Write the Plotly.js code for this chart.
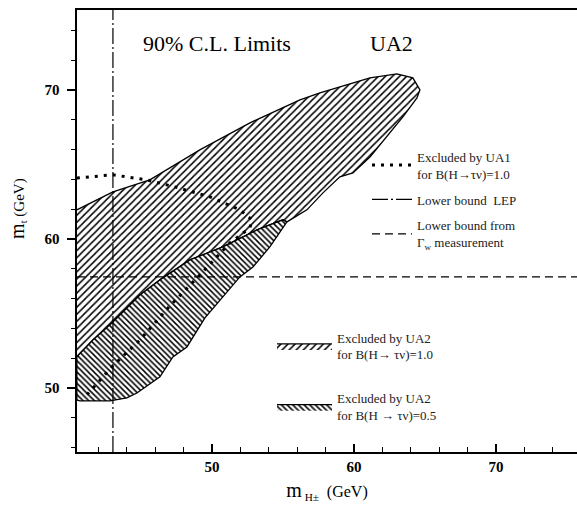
<!DOCTYPE html>
<html>
<head>
<meta charset="utf-8">
<script src="https://cdn.plot.ly/plotly-3.0.1.min.js"></script>
<style>
html,body{margin:0;padding:0;background:#fff;}
#chart{width:577px;height:517px;}
</style>
</head>
<body>
<div id="chart"></div>
<script>
// ---- data (GeV) ----
// Region excluded by UA2 for B(H->tau nu)=1.0 (upper, /// hatch)
const ua2B10_mH = [40.49, 43.03, 45.63, 49.15, 52.68, 56.20, 57.61, 61.13, 63.03, 64.15, 64.65,
                   64.44, 63.45, 62.32, 61.13, 59.93, 59.01, 57.82, 56.69, 55.28,
                   55.00, 53.17, 50.77, 48.45, 46.34, 44.93, 42.96, 41.62, 40.49];
const ua2B10_mt = [61.95, 63.15, 63.96, 65.97, 67.79, 69.33, 69.80, 70.81, 71.07, 70.81, 70.00,
                   69.46, 68.19, 66.85, 65.50, 64.43, 64.16, 63.09, 61.95, 61.14,
                   61.28, 60.60, 59.46, 58.59, 57.25, 56.24, 54.36, 53.22, 52.08];
// Region excluded by UA2 for B(H->tau nu)=0.5 (lower, \\\ hatch)
const ua2B05_mH = [55.28, 54.08, 52.89, 51.97, 49.51, 48.24, 47.25, 46.34, 44.72, 44.01, 42.82, 40.70, 40.49,
                   40.49, 41.62, 42.96, 44.93, 46.34, 48.45, 50.77, 53.17, 55.00, 55.28];
const ua2B05_mt = [61.14, 59.46, 58.12, 57.45, 54.70, 52.75, 52.08, 50.74, 49.66, 49.33, 49.13, 49.13, 49.19,
                   52.08, 53.22, 54.36, 56.24, 57.25, 58.59, 59.46, 60.60, 61.28, 61.14];
// UA1 exclusion contour for B=1.0 (dotted)
const ua1_mH = [40.49, 43.03, 45.42, 47.39, 49.86, 51.97, 52.82, 52.68, 51.83, 51.27, 49.15, 47.04, 44.93, 43.03, 41.06];
const ua1_mt = [64.09, 64.30, 63.96, 63.49, 62.82, 61.95, 61.28, 60.74, 60.13, 59.73, 57.58, 55.50, 53.22, 51.48, 49.40];
// LEP lower bound on m_H (vertical) and Gamma_W lower bound on m_t (horizontal)
const lepBound_mH = 43.03;
const gammaWBound_mt = 57.45;
// axis ranges and ticks
const xRange = [40.5, 75.71];
const yRange = [45.70, 75.36];
const xTickVals = [50, 60, 70];
const yTickVals = [50, 60, 70];
const tickLabels = ["<b>50</b>", "<b>60</b>", "<b>70</b>"];

const serif = "Liberation Serif, Times New Roman, serif";

const traces = [
  {
    x: ua2B10_mH, y: ua2B10_mt, type: 'scatter', mode: 'lines',
    fill: 'toself', fillcolor: 'white',
    fillpattern: {shape: '/', size: 5, solidity: 0.3, fgcolor: 'black', bgcolor: 'white'},
    line: {color: 'black', width: 1.3},
    name: 'Excluded by UA2<br>for B(H→ τν)=1.0', legend: 'legend2', legendgroup: 'a', hoverinfo: 'skip'
  },
  {
    x: ua2B05_mH, y: ua2B05_mt, type: 'scatter', mode: 'lines',
    fill: 'toself', fillcolor: 'white',
    fillpattern: {shape: '\\', size: 4, solidity: 0.38, fgcolor: 'black', bgcolor: 'white'},
    line: {color: 'black', width: 1.3},
    name: 'Excluded by UA2<br>for B(H → τν)=0.5', legend: 'legend2', legendgroup: 'b', hoverinfo: 'skip'
  },
  {
    x: ua1_mH, y: ua1_mt, type: 'scatter', mode: 'lines',
    line: {color: 'black', width: 3, dash: '3px,6px'},
    name: 'Excluded by UA1<br>for B(H→τν)=1.0', legend: 'legend', legendgroup: 'c', hoverinfo: 'skip'
  },
  {
    x: [lepBound_mH, lepBound_mH], y: yRange, type: 'scatter', mode: 'lines',
    line: {color: 'black', width: 1.2, dash: '16px,3px,2px,3px'},
    name: 'Lower bound  LEP', legend: 'legend', legendgroup: 'd', hoverinfo: 'skip'
  },
  {
    x: xRange, y: [gammaWBound_mt, gammaWBound_mt], type: 'scatter', mode: 'lines',
    line: {color: 'black', width: 1.2, dash: '8px,5px'},
    name: 'Lower bound from<br>Γ<sub>w</sub> measurement', legend: 'legend', legendgroup: 'e', hoverinfo: 'skip'
  }
];

const layout = {
  width: 577, height: 517,
  margin: {l: 77, r: 0, t: 10, b: 65},
  paper_bgcolor: 'white', plot_bgcolor: 'white',
  font: {family: serif, color: 'black'},
  showlegend: true,
  xaxis: {
    range: xRange, showgrid: false, zeroline: false,
    showline: true, linecolor: 'black', linewidth: 2, mirror: true,
    ticks: 'inside', ticklen: 8, tickwidth: 1.5, tickcolor: 'black',
    tickvals: xTickVals, ticktext: tickLabels,
    minor: {dtick: 2, tick0: 0, ticks: 'inside', ticklen: 5, tickwidth: 1, tickcolor: 'black', showgrid: false},
    tickfont: {family: serif, size: 15},
    title: {text: '<span style="font-size:20px">m</span><sub> H±</sub>  (GeV)', font: {family: serif, size: 16}, standoff: 12}
  },
  yaxis: {
    range: yRange, showgrid: false, zeroline: false,
    showline: true, linecolor: 'black', linewidth: 2.5,
    ticks: 'outside', ticklen: 8, tickwidth: 1.5, tickcolor: 'black',
    tickvals: yTickVals, ticktext: tickLabels,
    minor: {dtick: 2, tick0: 0, ticks: 'outside', ticklen: 4, tickwidth: 1, tickcolor: 'black', showgrid: false},
    tickfont: {family: serif, size: 15},
    ticklabelstandoff: 4
  },
  legend: {
    x: 0.58, y: 0.702, xanchor: 'left', yanchor: 'top',
    bgcolor: 'rgba(0,0,0,0)', borderwidth: 0,
    font: {family: serif, size: 13, color: '#222'},
    itemwidth: 40, tracegroupgap: 6, itemclick: false
  },
  legend2: {
    x: 0.39, y: 0.293, xanchor: 'left', yanchor: 'top',
    bgcolor: 'rgba(0,0,0,0)', borderwidth: 0,
    font: {family: serif, size: 13, color: '#222'},
    itemwidth: 55, tracegroupgap: 24, itemclick: false
  },
  annotations: [
    {text: '90% C.L. Limits', xref: 'paper', yref: 'paper', x: 0.28, y: 0.925,
     xanchor: 'center', yanchor: 'middle', showarrow: false, font: {family: serif, size: 22}},
    {text: 'UA2', xref: 'paper', yref: 'paper', x: 0.628, y: 0.925,
     xanchor: 'center', yanchor: 'middle', showarrow: false, font: {family: serif, size: 22}},
    {text: '<span style="font-size:20px">m</span><sub>t</sub> (GeV)', xref: 'paper', yref: 'paper', x: -0.118, y: 0.55,
     xanchor: 'center', yanchor: 'middle', textangle: -90, showarrow: false, font: {family: serif, size: 15}}
  ]
};

Plotly.newPlot('chart', traces, layout, {displayModeBar: false, staticPlot: true});
</script>
</body>
</html>
